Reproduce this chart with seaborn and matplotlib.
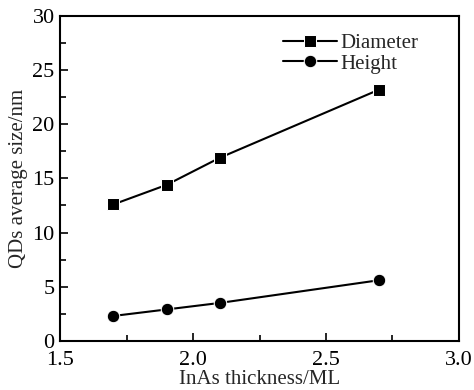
import matplotlib
matplotlib.use("Agg")
import matplotlib.pyplot as plt
import seaborn as sns
import pandas as pd
from matplotlib.ticker import MultipleLocator, FormatStrFormatter

thickness = [1.7, 1.9, 2.1, 2.7]
diameter = [12.6, 14.4, 16.9, 23.2]
height = [2.3, 2.9, 3.5, 5.6]

df = pd.DataFrame({
    "thickness": thickness * 2,
    "size": diameter + height,
    "kind": ["Diameter"] * 4 + ["Height"] * 4,
})

sns.set_style("ticks")
plt.rcParams["font.family"] = ["Liberation Serif", "DejaVu Serif"]

fig = plt.figure(figsize=(4.74, 3.9), dpi=100)
ax = fig.add_axes([0.127, 0.126, 0.841, 0.833])

sns.lineplot(data=df, x="thickness", y="size", style="kind",
             markers={"Diameter": "s", "Height": "o"},
             dashes=False, color="black", markersize=9,
             linewidth=1.5, ax=ax, legend=True)

ax.set_xlim(1.5, 3.0)
ax.set_ylim(0, 30)
ax.xaxis.set_major_locator(MultipleLocator(0.5))
ax.xaxis.set_minor_locator(MultipleLocator(0.25))
ax.yaxis.set_major_locator(MultipleLocator(5))
ax.yaxis.set_minor_locator(MultipleLocator(2.5))
ax.xaxis.set_major_formatter(FormatStrFormatter("%.1f"))
ax.tick_params(which="both", direction="in", top=False, right=False,
               labelsize=16, colors="black")
ax.tick_params(axis="x", which="both", pad=7)
ax.tick_params(axis="y", which="both", pad=4)
ax.tick_params(which="major", length=6, width=1.2)
ax.tick_params(which="minor", length=4, width=1.2)
for s in ax.spines.values():
    s.set_linewidth(1.5)
    s.set_color("black")

ax.set_xlabel("InAs thickness/ML", fontsize=15, labelpad=0)
ax.set_ylabel("QDs average size/nm", fontsize=15, labelpad=3)

leg = ax.legend(loc="upper right", bbox_to_anchor=(0.93, 0.985), frameon=False,
                fontsize=15, handlelength=2.6, handletextpad=0.15,
                labelspacing=0.05, borderaxespad=0.2)

fig.savefig("out.png", dpi=100)
